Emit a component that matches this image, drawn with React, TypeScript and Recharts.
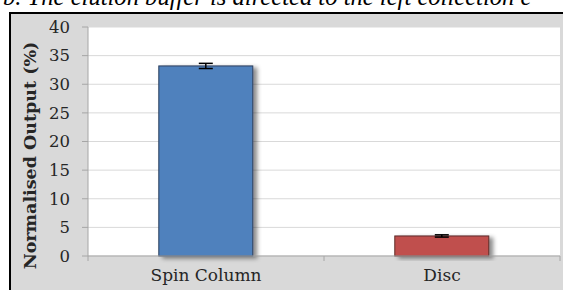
import React from "react";
import {
  Bar,
  BarChart,
  CartesianGrid,
  Cell,
  ErrorBar,
  XAxis,
  YAxis,
} from "recharts";

const CATEGORIES = ["Spin Column", "Disc"];
const OUTPUT = [33.2, 3.5];
const ERRORS = [0.45, 0.2];
const Y_TICKS = [0, 5, 10, 15, 20, 25, 30, 35, 40];

const FILLS = ["#4f81bd", "#c0504d"];
const STROKES = ["#2a3f5c", "#5c2a29"];

const FONT = "'DejaVu Serif', serif";

const data = CATEGORIES.map((name, i) => ({
  name,
  value: OUTPUT[i],
  err: ERRORS[i],
}));

const BAND = 236;

function ShadowBar(props: any) {
  const { x, y, width, height, fill, stroke } = props;
  if (height <= 0) return null;
  return (
    <rect
      x={x}
      y={y}
      width={width}
      height={height}
      fill={fill}
      stroke={stroke}
      strokeWidth={1}
      filter="url(#barShadow)"
    />
  );
}

function CatTick(props: any) {
  const { x, y, payload, index } = props;
  const left = x - BAND / 2;
  const right = x + BAND / 2;
  return (
    <g>
      <line x1={left} y1={y - 8} x2={left} y2={y - 3} stroke="#a6a6a6" />
      {index === CATEGORIES.length - 1 && (
        <line x1={right} y1={y - 8} x2={right} y2={y - 3} stroke="#a6a6a6" />
      )}
      <text
        x={x}
        y={y + 17}
        textAnchor="middle"
        fontFamily={FONT}
        fontSize={17}
        fill="#262626"
      >
        {payload.value}
      </text>
    </g>
  );
}

export default function App() {
  return (
    <div
      style={{
        position: "fixed",
        left: 0,
        top: 0,
        width: 563,
        height: 290,
        overflow: "hidden",
        background: "#fff",
      }}
    >
      <div
        style={{
          position: "absolute",
          left: 3,
          top: -17,
          whiteSpace: "nowrap",
          fontFamily: "'Liberation Serif', serif",
          fontStyle: "italic",
          fontSize: 24.6,
          lineHeight: "28px",
          color: "#000",
        }}
      >
        b. The elution buffer is directed to the left collection c
      </div>
      <div
        style={{
          position: "absolute",
          left: 9,
          top: 12,
          width: 600,
          height: 300,
          borderLeft: "2px solid #000",
          borderTop: "2px solid #000",
          background: "#d9d9d9",
        }}
      >
        <BarChart
          width={552}
          height={276}
          data={data}
          margin={{ top: 13, right: 3, left: 0, bottom: 0 }}
          barCategoryGap="30%"
        >
          <defs>
            <filter id="barShadow" x="-10%" y="-10%" width="130%" height="130%">
              <feDropShadow
                dx={4}
                dy={2}
                stdDeviation={2}
                floodColor="#000"
                floodOpacity={0.45}
              />
            </filter>
          </defs>
          <CartesianGrid
            vertical={false}
            stroke="#d9d9d9"
            fill="#ffffff"
          />
          <XAxis
            dataKey="name"
            height={34}
            axisLine={{ stroke: "#a6a6a6" }}
            tickLine={false}
            tick={<CatTick />}
            interval={0}
          />
          <YAxis
            width={77}
            domain={[0, 40]}
            ticks={Y_TICKS}
            interval={0}
            axisLine={{ stroke: "#a6a6a6" }}
            tickLine={{ stroke: "#a6a6a6" }}
            tickSize={6}
            tickMargin={12}
            tick={{ fontFamily: FONT, fontSize: 16.5, fill: "#262626" }}
            label={{
              value: "Normalised Output (%)",
              angle: -90,
              position: "insideLeft",
              offset: 19,
              dy: 14,
              style: {
                fontFamily: FONT,
                fontSize: 17.5,
                fontWeight: "bold",
                fill: "#262626",
                textAnchor: "middle",
              },
            }}
          />
          <YAxis
            yAxisId="right"
            orientation="right"
            width={0}
            domain={[0, 40]}
            tick={false}
            tickLine={false}
            axisLine={{ stroke: "#bfbfbf" }}
          />
          <Bar
            dataKey="value"
            isAnimationActive={false}
            shape={<ShadowBar />}
          >
            {data.map((_, i) => (
              <Cell key={i} fill={FILLS[i]} stroke={STROKES[i]} />
            ))}
            <ErrorBar
              dataKey="err"
              width={7}
              stroke="#000"
              strokeWidth={1.5}
              isAnimationActive={false}
            />
          </Bar>
        </BarChart>
      </div>
    </div>
  );
}
